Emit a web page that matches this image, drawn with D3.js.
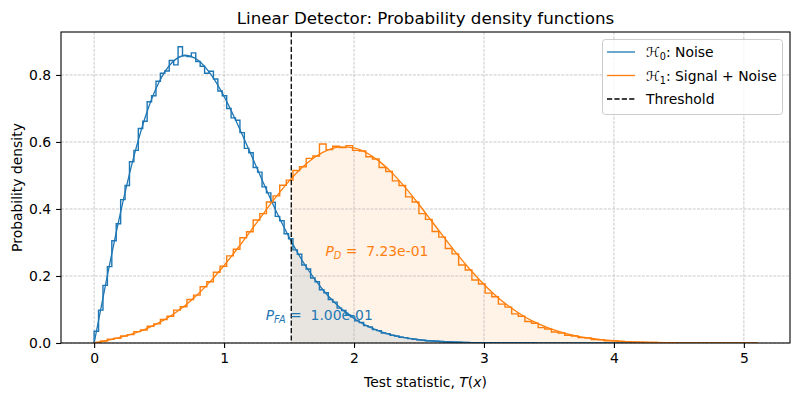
<!DOCTYPE html>
<html><head><meta charset="utf-8">
<script src="https://cdn.jsdelivr.net/npm/d3@7"></script>
<style>
body{margin:0;background:#fff}
svg{display:block;font-family:"DejaVu Sans",sans-serif}
</style>
</head><body><div id="chart"></div>
<script>
// ---------- data ----------
const pdfX = d3.range(52).map(i => i / 10);   // evaluation grid 0 .. 5.1
const pdfNoise = [0, 0.198, 0.384, 0.548, 0.682, 0.779, 0.837, 0.858, 0.844, 0.801,
  0.736, 0.656, 0.569, 0.480, 0.394, 0.316, 0.247, 0.189, 0.141, 0.103,
  0.073, 0.051, 0.035, 0.023, 0.015, 0.0097, 0.0060, 0.0037, 0.0022, 0.0013,
  0.0007, 0.0004, 0.0002, 0.0001, 0.0001, 0, 0, 0, 0, 0,
  0, 0, 0, 0, 0, 0, 0, 0, 0, 0, 0, 0];
const pdfSignal = [0, 0.0080, 0.0171, 0.0282, 0.0424, 0.0607, 0.0838, 0.1122, 0.1464, 0.1863,
  0.2313, 0.2805, 0.3322, 0.3849, 0.4359, 0.4830, 0.5235, 0.5551, 0.5762, 0.5854,
  0.5822, 0.5670, 0.5406, 0.5048, 0.4616, 0.4134, 0.3626, 0.3117, 0.2623, 0.2163,
  0.1747, 0.1382, 0.1072, 0.0814, 0.0606, 0.0442, 0.0316, 0.0221, 0.0152, 0.0102,
  0.0067, 0.0043, 0.0027, 0.0017, 0.0010, 0.0006, 0.0003, 0.0002, 0.0001, 0.0001, 0, 0];

const histNoiseRange = [0, 3.4];
const histNoise = [0.035, 0.098, 0.172, 0.228, 0.305, 0.356, 0.428, 0.470, 0.541, 0.575,
  0.640, 0.662, 0.720, 0.738, 0.781, 0.805, 0.812, 0.843, 0.830, 0.884,
  0.858, 0.855, 0.866, 0.840, 0.826, 0.805, 0.811, 0.788, 0.752, 0.738,
  0.700, 0.672, 0.665, 0.628, 0.581, 0.568, 0.524, 0.510, 0.466, 0.448,
  0.420, 0.378, 0.365, 0.326, 0.311, 0.278, 0.265, 0.233, 0.221, 0.194,
  0.183, 0.159, 0.150, 0.130, 0.122, 0.104, 0.097, 0.084, 0.078, 0.066,
  0.061, 0.052, 0.048, 0.040, 0.037, 0.030, 0.028, 0.023, 0.021, 0.017,
  0.016, 0.013, 0.011, 0.0094, 0.0085, 0.0069, 0.0062, 0.0050, 0.0044, 0.0035,
  0.0030, 0.0026, 0.0021, 0.0017, 0.0014, 0.0012, 0.0010, 0.0008, 0.0006, 0.0005,
  0.0004, 0.0003, 0.0003, 0.0002, 0.0002, 0.0001, 0.0001, 0.0001, 0.0000, 0.0003];

const histSignalRange = [0, 5.1];
const histSignal = [0.002, 0.006, 0.011, 0.014, 0.021, 0.025, 0.034, 0.039, 0.050, 0.057,
  0.070, 0.080, 0.098, 0.108, 0.130, 0.143, 0.168, 0.183, 0.211, 0.229,
  0.260, 0.280, 0.314, 0.332, 0.367, 0.386, 0.421, 0.439, 0.471, 0.486,
  0.515, 0.526, 0.551, 0.558, 0.594, 0.577, 0.587, 0.583, 0.589, 0.575,
  0.573, 0.556, 0.549, 0.524, 0.512, 0.484, 0.470, 0.436, 0.421, 0.386,
  0.369, 0.333, 0.316, 0.282, 0.266, 0.233, 0.218, 0.188, 0.176, 0.149,
  0.138, 0.116, 0.107, 0.087, 0.080, 0.064, 0.059, 0.046, 0.042, 0.033,
  0.030, 0.023, 0.021, 0.016, 0.015, 0.010, 0.0095, 0.0065, 0.0062, 0.0043,
  0.0039, 0.0027, 0.0024, 0.0016, 0.0015, 0.0009, 0.0008, 0.0005, 0.0004, 0.0004,
  0.0002, 0.0002, 0.0001, 0.0001, 0.0000, 0.0000, 0.0002, 0.0000, 0.0000, 0.0002];

const threshold = 1.517;
const xTicks = [0, 1, 2, 3, 4, 5];
const yTicks = [0, 0.2, 0.4, 0.6, 0.8];
const pFAText = "1.00e-01";
const pDText = "7.23e-01";
const pFAPos = [1.32, 0.07];
const pDPos = [1.78, 0.26];
const titleText = "Linear Detector: Probability density functions";
const yLabelText = "Probability density";

const C0 = "#1f77b4", C1 = "#ff7f0e";

// ---------- layout ----------
const W = 800, H = 400;
const L = 61, R = 790, T = 32, B = 343;
const xMax = pdfX[pdfX.length - 1];
const x = d3.scaleLinear().domain([-0.05 * xMax, 1.05 * xMax]).range([L, R]);
const yMax = d3.max([...histNoise, ...histSignal]);
const y = d3.scaleLinear().domain([0, yMax * 1.05]).range([B, T]);

const svg = d3.select("#chart").append("svg").attr("width", W).attr("height", H);

svg.append("defs").append("clipPath").attr("id", "thr")
  .append("rect").attr("x", x(threshold)).attr("y", T).attr("width", R - x(threshold)).attr("height", B - T);
svg.append("defs").append("clipPath").attr("id", "ax")
  .append("rect").attr("x", L).attr("y", T).attr("width", R - L).attr("height", B - T);

const noisePts = pdfX.map((v, i) => [v, pdfNoise[i]]);
const sigPts = pdfX.map((v, i) => [v, pdfSignal[i]]);
const area = d3.area().x(d => x(d[0])).y0(y(0)).y1(d => y(d[1])).curve(d3.curveMonotoneX);
const line = d3.line().x(d => x(d[0])).y(d => y(d[1])).curve(d3.curveMonotoneX);

// fills
const fills = svg.append("g").attr("clip-path", "url(#thr)");
fills.append("path").attr("d", area(sigPts)).attr("fill", C1).attr("fill-opacity", 0.1);
fills.append("path").attr("d", area(noisePts)).attr("fill", C0).attr("fill-opacity", 0.1);

// grid
const grid = svg.append("g").attr("stroke", "#b0b0b0").attr("stroke-opacity", 0.85)
  .attr("stroke-width", 0.8).attr("stroke-dasharray", "2.96,1.28");
xTicks.forEach(t => grid.append("line").attr("x1", x(t)).attr("x2", x(t)).attr("y1", T).attr("y2", B));
yTicks.forEach(t => grid.append("line").attr("x1", L).attr("x2", R).attr("y1", y(t)).attr("y2", y(t)));

// histograms (step)
function stepPath(counts, range) {
  const w = (range[1] - range[0]) / counts.length;
  const p = d3.path();
  p.moveTo(x(range[0]), y(0));
  counts.forEach((c, i) => {
    p.lineTo(x(range[0] + i * w), y(c));
    p.lineTo(x(range[0] + (i + 1) * w), y(c));
  });
  p.lineTo(x(range[1]), y(0));
  return p.toString();
}
const plot = svg.append("g").attr("clip-path", "url(#ax)");
plot.append("path").attr("d", stepPath(histNoise, histNoiseRange)).attr("fill", "none")
  .attr("stroke", C0).attr("stroke-width", 1.4).attr("stroke-linejoin", "miter");
plot.append("path").attr("d", stepPath(histSignal, histSignalRange)).attr("fill", "none")
  .attr("stroke", C1).attr("stroke-width", 1.4).attr("stroke-linejoin", "miter");

// pdf curves
plot.append("path").attr("d", line(noisePts)).attr("fill", "none").attr("stroke", C0).attr("stroke-width", 1.3);
plot.append("path").attr("d", line(sigPts)).attr("fill", "none").attr("stroke", C1).attr("stroke-width", 1.3);

// threshold
svg.append("line").attr("x1", x(threshold)).attr("x2", x(threshold)).attr("y1", T).attr("y2", B)
  .attr("stroke", "#000").attr("stroke-width", 1.3).attr("stroke-dasharray", "5.2,2.2");

// spines
svg.append("rect").attr("x", L).attr("y", T).attr("width", R - L).attr("height", B - T)
  .attr("fill", "none").attr("stroke", "#000").attr("stroke-width", 1.1);

// axes
const xAxis = svg.append("g").attr("transform", `translate(0,${B})`)
  .call(d3.axisBottom(x).tickValues(xTicks).tickFormat(d3.format("d")).tickSize(4.9).tickPadding(4.9));
const yAxis = svg.append("g").attr("transform", `translate(${L},0)`)
  .call(d3.axisLeft(y).tickValues(yTicks).tickFormat(d3.format(".1f")).tickSize(4.9).tickPadding(4.9));
[xAxis, yAxis].forEach(a => {
  a.select(".domain").remove();
  a.selectAll(".tick line").attr("stroke", "#000").attr("stroke-width", 1.1);
  a.selectAll(".tick text").attr("fill", "#000").style("font-size", "13.9px").style("font-family", "DejaVu Sans");
});

// title & labels
svg.append("text").attr("x", (L + R) / 2).attr("y", 24).attr("text-anchor", "middle")
  .style("font-size", "16.7px").text(titleText);
const xl = svg.append("text").attr("x", (L + R) / 2).attr("y", 387).attr("text-anchor", "middle").style("font-size", "13.9px");
xl.append("tspan").text("Test statistic, ");
xl.append("tspan").attr("font-style", "italic").text("T");
xl.append("tspan").text("(");
xl.append("tspan").attr("font-style", "italic").text("x");
xl.append("tspan").text(")");
svg.append("text").attr("transform", `translate(22,${(T + B) / 2}) rotate(-90)`).attr("text-anchor", "middle")
  .style("font-size", "13.9px").text(yLabelText);

// annotations
function probText(pos, sub, val, color) {
  const t = svg.append("text").attr("x", x(pos[0])).attr("y", y(pos[1])).attr("fill", color)
    .style("font-size", "13.9px").attr("xml:space", "preserve");
  t.append("tspan").attr("font-style", "italic").text("P");
  t.append("tspan").attr("font-style", "italic").attr("dy", 3.5).style("font-size", "9.7px").text(sub);
  t.append("tspan").attr("dy", -3.5).text(" =  " + val);
}
probText(pFAPos, "FA", pFAText, C0);
probText(pDPos, "D", pDText, C1);

// legend
const lg = svg.append("g");
lg.append("rect").attr("x", 602.5).attr("y", 39.5).attr("width", 180).attr("height", 75).attr("rx", 3)
  .attr("fill", "#fff").attr("fill-opacity", 0.8).attr("stroke", "#cccccc").attr("stroke-width", 1);
const rows = [
  {c: C0, dash: null, main: "ℋ", sub: "0", rest: ": Noise"},
  {c: C1, dash: null, main: "ℋ", sub: "1", rest: ": Signal + Noise"},
  {c: "#000", dash: "5.2,2.2", main: "", sub: "", rest: "Threshold"}
];
rows.forEach((r, i) => {
  const cy = 52 + i * 23.5;
  lg.append("line").attr("x1", 607).attr("x2", 635).attr("y1", cy).attr("y2", cy)
    .attr("stroke", r.c).attr("stroke-width", 1.3).attr("stroke-dasharray", r.dash);
  const t = lg.append("text").attr("x", 646).attr("y", cy + 5).style("font-size", "13.9px");
  if (r.main) {
    t.append("tspan").text(r.main);
    t.append("tspan").attr("dy", 3).style("font-size", "9.7px").text(r.sub);
    t.append("tspan").attr("dy", -3).text(r.rest);
  } else {
    t.append("tspan").text(r.rest);
  }
});
</script>
</body></html>
